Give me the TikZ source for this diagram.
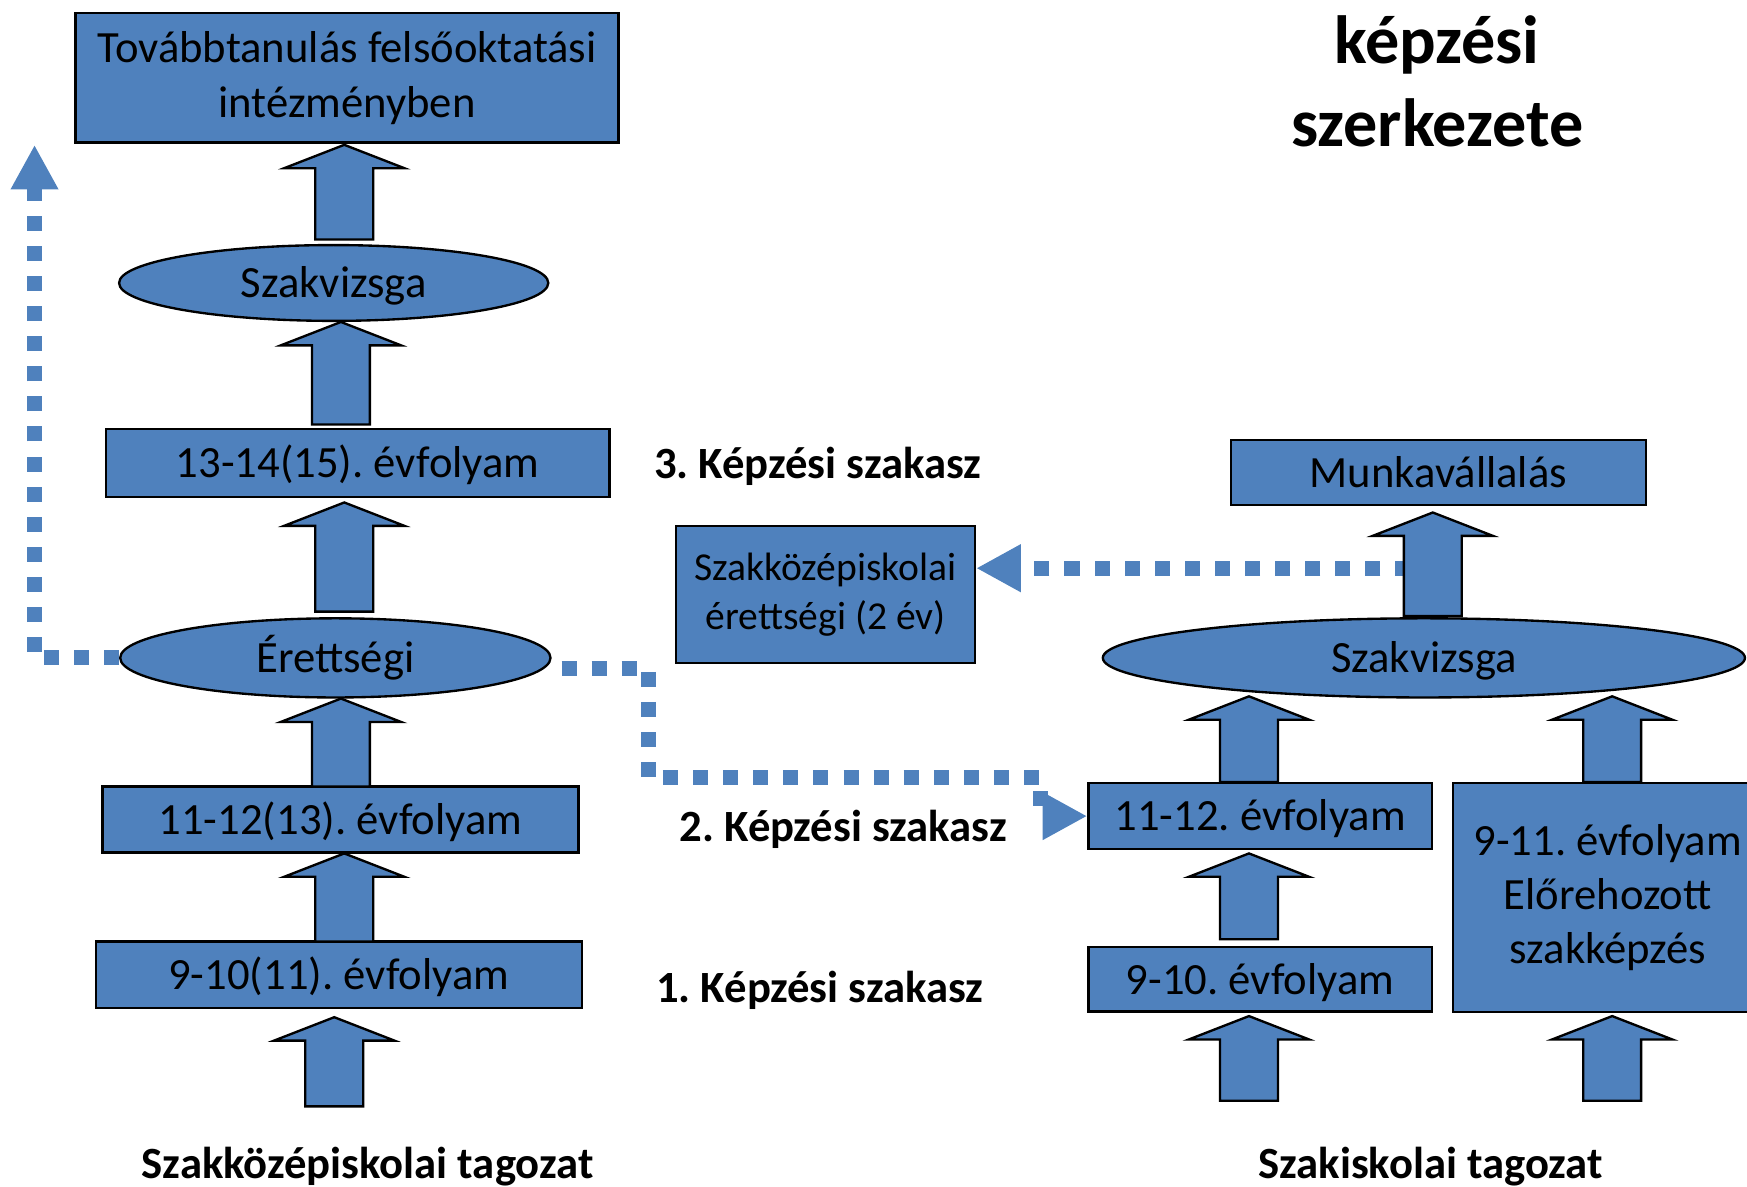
\documentclass[tikz,border=0pt]{standalone}
\usepackage{fontspec}
\setmainfont{Carlito}
\usepackage{xcolor}
\usetikzlibrary{arrows.meta,positioning,shapes.geometric}
\definecolor{ppblue}{HTML}{4F81BD}
\frenchspacing

\begin{document}
\begin{tikzpicture}[x=0.01cm, y=-0.01cm,
    box/.style={draw=black, line width=0.6pt, fill=ppblue, inner sep=0pt, align=center,
      font=\fontsize{11.4}{14}\selectfont},
    oval/.style={box, ellipse},
    oneline/.style={text height=0.75em, text depth=0pt},
    stage/.style={oneline, font=\fontsize{11.4}{14}\selectfont\bfseries},
    dotarrow/.style={ppblue, line width=3.84pt, dash pattern=on 3.84pt off 3.84pt,
      -{Triangle[length=11.4pt,width=11.4pt]}},
    bigarrow/.style={draw=black, line width=0.6pt, fill=ppblue}]

  \useasboundingbox (0,0) rectangle (1568,1065);
  \clip (0,0) rectangle (1568,1065);

  % bal oszlop
  \node[box, minimum width=4.87cm, minimum height=1.16cm] (tovabb) at (311.5,70)
    {Továbbtanulás felsőoktatási\\intézményben};
  \node[oval, oneline, minimum width=3.85cm, minimum height=0.68cm] (szakv1) at (299.5,254) {Szakvizsga};
  \node[box, oneline, minimum width=4.52cm, minimum height=0.61cm] (ev1315) at (321,415.5) {13-14(15). évfolyam};
  \node[oval, oneline, minimum width=3.86cm, minimum height=0.71cm] (erett) at (301,590.5) {Érettségi};
  \node[box, oneline, minimum width=4.27cm, minimum height=0.59cm] (ev1113) at (305.5,735.5) {11-12(13). évfolyam};
  \node[box, oneline, minimum width=4.36cm, minimum height=0.60cm] (ev911) at (304,875) {9-10(11). évfolyam};

  % kozep
  \node[box, minimum width=2.68cm, minimum height=1.23cm,
    font=\fontsize{10.1}{12.5}\selectfont] (szkerett) at (741,533.5)
    {Szakközépiskolai\\érettségi (2 év)};
  \node[stage] (stage3) at (734,416) {3. Képzési szakasz};
  \node[stage] (stage2) at (757,742) {2. Képzési szakasz};
  \node[stage] (stage1) at (736,887) {1. Képzési szakasz};

  % jobb oszlop
  \node[font=\fontsize{17.4}{21.3}\selectfont\bfseries, align=center] (title) at (1290,73)
    {képzési\\szerkezete};
  \node[box, oneline, minimum width=3.72cm, minimum height=0.58cm] (munka) at (1291,424) {Munkavállalás};
  \node[oval, oneline, minimum width=5.76cm, minimum height=0.71cm] (szakv2) at (1278,590.5) {Szakvizsga};
  \node[box, oneline, minimum width=3.08cm, minimum height=0.59cm] (ev1112) at (1131,732.5) {11-12. évfolyam};
  \node[box, oneline, minimum width=3.08cm, minimum height=0.58cm] (ev910) at (1131,879) {9-10. évfolyam};
  \node[box, minimum width=2.78cm, minimum height=2.05cm,
    font=\fontsize{11.4}{13.8}\selectfont] (ev911b) at (1443,805.5)
    {9-11. évfolyam\\Előrehozott\\szakképzés};

  \node[stage] (tagozat1) at (330,1045) {Szakközépiskolai tagozat};
  \node[stage] (tagozat2) at (1284,1045) {Szakiskolai tagozat};

  % pontozott nyilak
  \coordinate (up-end) at (31,130);
  \coordinate (erett-out) at (504,600);
  \coordinate (munka-tail) at (1266,510);
  \draw[dotarrow] (erett.west) -| (up-end);
  \draw[dotarrow] (erett-out) -| (582,698) -- (934,698) |- (ev1112.west);
  \draw[dotarrow] (munka-tail) -- (szkerett.east |- munka-tail);

  % vastag nyilak
  \foreach \x/\t/\b in {309/130/215, 306/289/381, 309/451/549, 306/627/706,
      309/766/845, 300/913/993, 1286/460/553, 1121/625/702, 1447/625/702,
      1121/766/843, 1121/912/988, 1447/912/988}
    \draw[bigarrow] ({\x-26},\b) -- ({\x-26},{\t+21}) -- ({\x-54},{\t+21}) -- (\x,\t)
      -- ({\x+54},{\t+21}) -- ({\x+26},{\t+21}) -- ({\x+26},\b) -- cycle;
\end{tikzpicture}
\end{document}
